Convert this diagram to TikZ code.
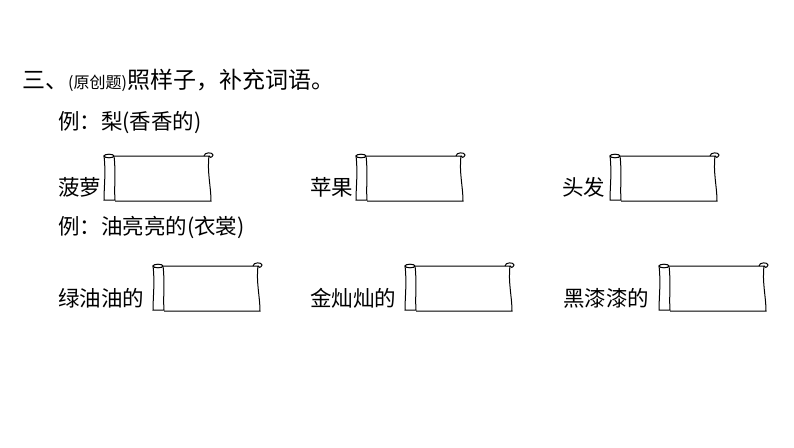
\documentclass[tikz,border=0pt]{standalone}
\usepackage{fontspec}
\newfontfamily\cjk{Noto Sans CJK SC}
\begin{document}
\begin{tikzpicture}[x=1pt,y=-1pt,
  txt/.style={anchor=west,font=\cjk\fontsize{21.5}{21.5}\selectfont,inner sep=0},
  scroll/.pic={
    \draw[line width=1pt,fill=white] (12,4) -- (106,4) .. controls (104,20) and (108,35) .. (108,49) -- (12,49);
    \draw[line width=1pt,fill=white] (1,4) .. controls (3,20) and (1,35) .. (1,48) -- (12,48) .. controls (11,35) and (13,20) .. (11,4) -- cycle;
    \draw[line width=1pt,fill=white] (6,4) ellipse (5 and 1.8);
    \draw[line width=1pt] (101,4) .. controls (101,0) and (110,0) .. (110,3) .. controls (109,6) and (106,6) .. (106,4);
  }]
\useasboundingbox (0,0) rectangle (794,447);
\node[txt,font=\cjk\fontsize{23}{23}\selectfont] (t) at (22,80) {三、{\fontsize{16}{16}\selectfont (原创题)}照样子，补充词语。};
\node[txt] (e1) at (58,123) {例：梨(香香的)};
\node[txt] (a1) at (58,187) {菠萝};
\node[txt] (a2) at (310,187) {苹果};
\node[txt] (a3) at (562,187) {头发};
\node[txt] (e2) at (58,228) {例：油亮亮的(衣裳)};
\node[txt] (b1) at (58,298) {绿油油的};
\node[txt] (b2) at (310,298) {金灿灿的};
\node[txt] (b3) at (563,298) {黑漆漆的};
\pic at (103,152) {scroll};
\pic at (355,152) {scroll};
\pic at (609,152) {scroll};
\pic at (152,262) {scroll};
\pic at (404,262) {scroll};
\pic at (658,262) {scroll};
\end{tikzpicture}
\end{document}
